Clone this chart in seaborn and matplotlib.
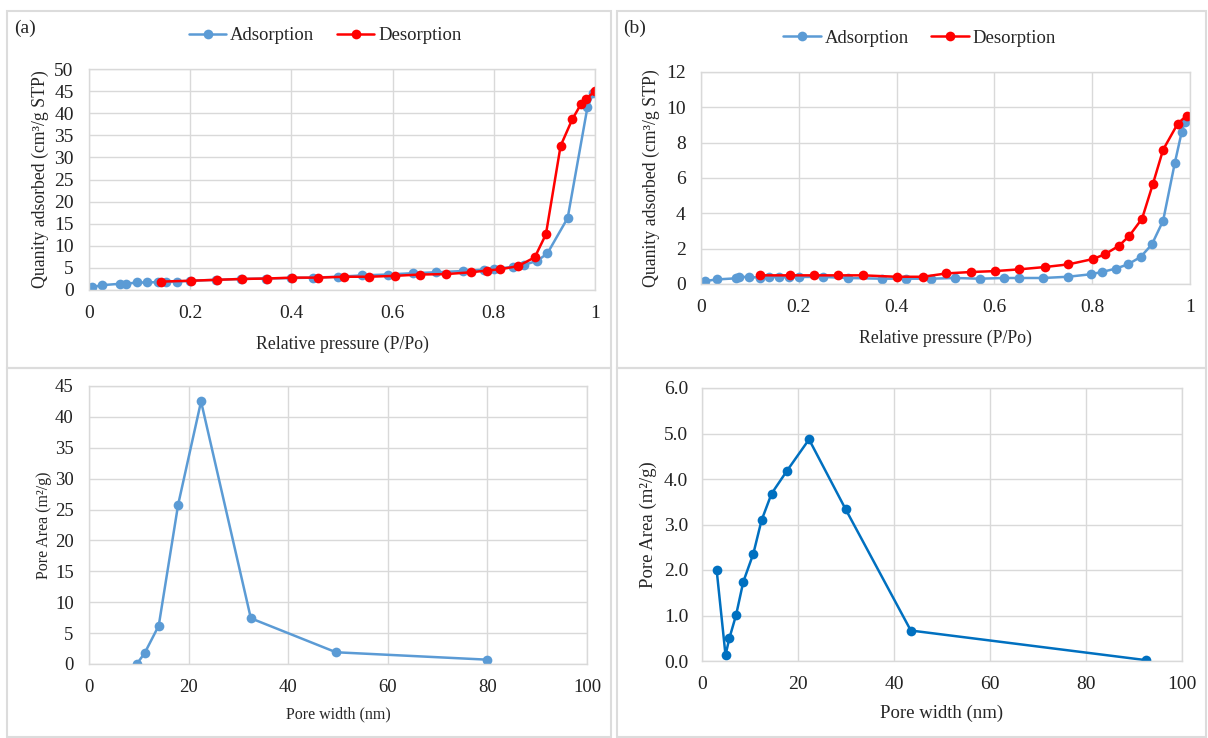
import matplotlib
matplotlib.use("Agg")
import matplotlib.pyplot as plt
from matplotlib.patches import Rectangle
from matplotlib.ticker import FormatStrFormatter, FuncFormatter
import seaborn as sns

# Isotherm (a)
ads_a_p = [0.005, 0.026, 0.061, 0.074, 0.094, 0.114, 0.136, 0.153, 0.173, 0.2, 0.25, 0.3, 0.35,
           0.4, 0.443, 0.493, 0.54, 0.59, 0.64, 0.685, 0.74, 0.78, 0.8, 0.837, 0.86, 0.886, 0.906,
           0.946, 0.985, 0.997]
ads_a_q = [0.6, 1.1, 1.4, 1.4, 1.7, 1.7, 1.8, 1.9, 1.9, 2.1, 2.3, 2.5, 2.6,
           2.7, 2.8, 3.0, 3.3, 3.5, 3.8, 4.0, 4.3, 4.6, 4.8, 5.2, 5.7, 6.6, 8.3,
           16.3, 41.3, 44.6]
des_a_p = [1.0, 0.983, 0.972, 0.955, 0.932, 0.903, 0.881, 0.848, 0.813, 0.786, 0.754, 0.706,
           0.654, 0.604, 0.553, 0.503, 0.453, 0.402, 0.352, 0.303, 0.252, 0.202, 0.142]
des_a_q = [45.0, 43.3, 42.0, 38.6, 32.6, 12.6, 7.4, 5.4, 4.7, 4.4, 4.0, 3.6,
           3.5, 3.2, 3.0, 3.0, 2.8, 2.8, 2.6, 2.5, 2.3, 2.1, 1.9]

# Isotherm (b)
ads_b_p = [0.009, 0.033, 0.071, 0.078, 0.098, 0.12, 0.139, 0.16, 0.18, 0.2, 0.25, 0.3, 0.37,
           0.42, 0.47, 0.52, 0.57, 0.62, 0.65, 0.7, 0.75, 0.797, 0.82, 0.848, 0.873, 0.899,
           0.922, 0.945, 0.969, 0.983, 0.989]
ads_b_q = [0.17, 0.26, 0.32, 0.4, 0.4, 0.36, 0.4, 0.4, 0.38, 0.4, 0.4, 0.34, 0.3,
           0.3, 0.3, 0.34, 0.3, 0.34, 0.34, 0.34, 0.41, 0.55, 0.68, 0.87, 1.11, 1.53,
           2.24, 3.58, 6.86, 8.6, 9.15]
des_b_p = [0.993, 0.975, 0.945, 0.924, 0.902, 0.876, 0.855, 0.826, 0.801, 0.751, 0.703, 0.651,
           0.601, 0.553, 0.502, 0.454, 0.4, 0.331, 0.28, 0.231, 0.181, 0.121]
des_b_q = [9.53, 9.08, 7.6, 5.65, 3.7, 2.73, 2.17, 1.68, 1.41, 1.11, 0.96, 0.83,
           0.73, 0.68, 0.6, 0.41, 0.41, 0.49, 0.49, 0.49, 0.49, 0.49]

# Pore area distributions
width_c = [9.6, 11.2, 14.0, 17.9, 22.5, 32.5, 49.6, 80.0]
area_c = [0.0, 1.8, 6.2, 25.8, 42.5, 7.4, 1.9, 0.7]
width_d = [3.05, 4.9, 5.7, 7.1, 8.6, 10.7, 12.4, 14.5, 17.7, 22.3, 29.9, 43.5, 92.4]
area_d = [2.0, 0.13, 0.5, 1.01, 1.74, 2.36, 3.09, 3.68, 4.18, 4.87, 3.34, 0.67, 0.02]

BLUE = "#5B9BD5"
RED = "#FF0000"
DBLUE = "#0070C0"
GRID = "#D9D9D9"

sns.set_style("white")
plt.rcParams["font.family"] = ["Liberation Serif", "DejaVu Serif"]

W, H = 1208, 738
fig = plt.figure(figsize=(W / 100, H / 100), dpi=100)


def px_axes(left, top, right, bottom):
    return fig.add_axes([left / W, 1 - bottom / H, (right - left) / W, (bottom - top) / H])


# panel borders
for (x0, y0, x1, y1) in [(7, 11, 611, 368), (617, 11, 1206, 368),
                         (7, 368, 611, 737), (617, 368, 1206, 737)]:
    fig.add_artist(Rectangle((x0 / W, 1 - y1 / H), (x1 - x0) / W, (y1 - y0) / H,
                             transform=fig.transFigure, fill=False,
                             edgecolor="#DCDCDC", lw=1.5))


def style(ax, fs, xpad, ypad):
    ax.grid(True, color=GRID, lw=1)
    ax.set_axisbelow(True)
    for s in ax.spines.values():
        s.set_color(GRID)
        s.set_linewidth(1)
    ax.tick_params(length=0, labelsize=fs, colors="#222222")
    ax.tick_params(axis="x", pad=xpad)
    ax.tick_params(axis="y", pad=ypad)


def p_fmt(v, _):
    return "%g" % round(v, 1)


def isotherm(ax, ap, aq, dp, dq, ymax, ystep, legend_x, legend_y):
    sns.lineplot(x=ap, y=aq, ax=ax, sort=False, color=BLUE, marker="o", markersize=7,
                 markeredgewidth=0, lw=1.8, label="Adsorption")
    sns.lineplot(x=dp, y=dq, ax=ax, sort=False, color=RED, marker="o", markersize=7,
                 markeredgewidth=0, lw=1.8, label="Desorption")
    ax.set_xlim(0, 1)
    ax.set_ylim(0, ymax)
    ax.set_xticks([0, 0.2, 0.4, 0.6, 0.8, 1.0])
    ax.set_yticks(range(0, ymax + 1, ystep))
    ax.xaxis.set_major_formatter(FuncFormatter(p_fmt))
    style(ax, 14, 11, 11)
    ax.set_xlabel("Relative pressure (P/Po)", fontsize=12.8, labelpad=10)
    ax.set_ylabel("Quanity adsorbed (cm³/g STP)", fontsize=12.8, labelpad=4)
    ax.legend(loc="center", bbox_to_anchor=(legend_x, legend_y), ncol=2, frameon=False,
              fontsize=13.5, handlelength=2.0, handletextpad=0.2, columnspacing=1.2)


ax1 = px_axes(89, 69, 595, 290)
isotherm(ax1, ads_a_p, ads_a_q, des_a_p, des_a_q, 50, 5, 0.467, 1.15)
fig.text(14 / W, 1 - 28 / H, "(a)", fontsize=14, va="center", ha="left")

ax2 = px_axes(701, 72, 1190, 284)
isotherm(ax2, ads_b_p, ads_b_q, des_b_p, des_b_q, 12, 2, 0.447, 1.16)
fig.text(623 / W, 1 - 28 / H, "(b)", fontsize=14, va="center", ha="left")

ax3 = px_axes(89, 386, 587, 664)
sns.lineplot(x=width_c, y=area_c, ax=ax3, sort=False, color=BLUE, marker="o",
             markersize=7, markeredgewidth=0, lw=1.8)
ax3.set_xlim(0, 100)
ax3.set_ylim(0, 45)
ax3.set_xticks(range(0, 101, 20))
ax3.set_yticks(range(0, 46, 5))
style(ax3, 13.5, 11, 11)
ax3.set_xlabel("Pore width (nm)", fontsize=11.5, labelpad=7)
ax3.set_ylabel("Pore Area (m²/g)", fontsize=11.5, labelpad=2)

ax4 = px_axes(702, 388, 1182, 661)
sns.lineplot(x=width_d, y=area_d, ax=ax4, sort=False, color=DBLUE, marker="o",
             markersize=7, markeredgewidth=0, lw=1.8)
ax4.set_xlim(0, 100)
ax4.set_ylim(0, 6)
ax4.set_xticks(range(0, 101, 20))
ax4.set_yticks([0, 1, 2, 3, 4, 5, 6])
ax4.yaxis.set_major_formatter(FormatStrFormatter("%.1f"))
style(ax4, 14, 11, 10)
ax4.set_xlabel("Pore width (nm)", fontsize=13.5, labelpad=8)
ax4.set_ylabel("Pore Area (m²/g)", fontsize=13.5, labelpad=5)

fig.savefig("out.png", dpi=100)
